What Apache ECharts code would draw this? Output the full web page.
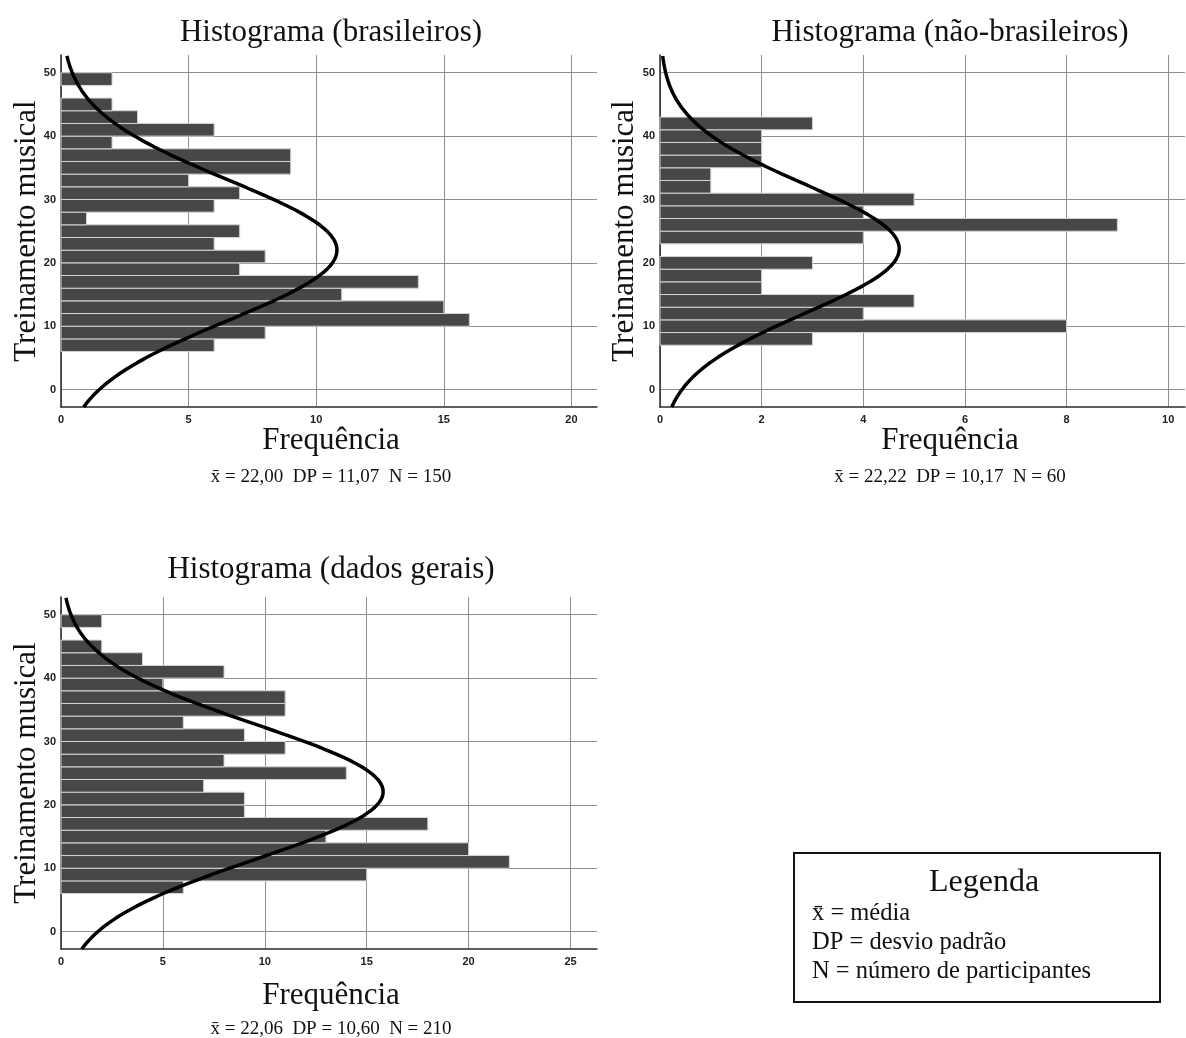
<!DOCTYPE html>
<html>
<head>
<meta charset="utf-8">
<title>Histogramas - Treinamento musical</title>
<script src="https://cdn.jsdelivr.net/npm/echarts@6/dist/echarts.min.js"></script>
<style>
  html, body { margin: 0; padding: 0; background: #ffffff; }
  #chart { width: 1186px; height: 1038px; }
</style>
</head>
<body>
<div id="chart"></div>
<script>
// Histogram bins of "Treinamento musical" (lower edge of each bin, width 2)
const binWidth = 2;
const binStartBrasileiros = [6, 8, 10, 12, 14, 16, 18, 20, 22, 24, 26, 28, 30, 32, 34, 36, 38, 40, 42, 44, 46, 48];
const freqBrasileiros     = [6, 8, 16, 15, 11, 14, 7, 8, 6, 7, 1, 6, 7, 5, 9, 9, 2, 6, 3, 2, 0, 2];

const binStartNaoBrasileiros = [7, 9, 11, 13, 15, 17, 19, 21, 23, 25, 27, 29, 31, 33, 35, 37, 39, 41];
const freqNaoBrasileiros     = [3, 8, 4, 5, 2, 2, 3, 0, 4, 9, 4, 5, 1, 1, 2, 2, 2, 3];

const binStartGerais = [6, 8, 10, 12, 14, 16, 18, 20, 22, 24, 26, 28, 30, 32, 34, 36, 38, 40, 42, 44, 46, 48];
const freqGerais     = [6, 15, 22, 20, 13, 18, 9, 9, 7, 14, 8, 11, 9, 6, 11, 11, 5, 8, 4, 2, 0, 2];

// Descriptive statistics: brasileiros, não-brasileiros, dados gerais
const meanValues = [22.00, 22.22, 22.06];
const sdValues   = [11.07, 10.17, 10.60];
const nValues    = [150, 60, 210];

// Tick labels
const yTicks = [0, 10, 20, 30, 40, 50];
const xTicksBrasileiros    = [0, 5, 10, 15, 20];
const xTicksNaoBrasileiros = [0, 2, 4, 6, 8, 10];
const xTicksGerais         = [0, 5, 10, 15, 20, 25];

const titles = ['Histograma (brasileiros)', 'Histograma (não-brasileiros)', 'Histograma (dados gerais)'];
const yName = 'Treinamento musical';
const xName = 'Frequência';
const legendTitle = 'Legenda';
const legendLines = ['x\u0304 = média', 'DP = desvio padrão', 'N = número de participantes'];

// ---- layout ----
const Y_MIN = -2.75, Y_MAX = 52.8;
const grids = [
  { left: 61,  top: 55,  width: 536, height: 352, xMax: 21,    xTicks: xTicksBrasileiros,
    cx: 331, titleY: 33,  yNameX: 27,  xNameY: 441, statsY: 477 },
  { left: 660, top: 55,  width: 525, height: 352, xMax: 10.33, xTicks: xTicksNaoBrasileiros,
    cx: 950, titleY: 33,  yNameX: 625, xNameY: 441, statsY: 477 },
  { left: 61,  top: 597, width: 536, height: 352, xMax: 26.3,  xTicks: xTicksGerais,
    cx: 331, titleY: 570, yNameX: 27,  xNameY: 996, statsY: 1029 }
];
const histData = [
  [binStartBrasileiros, freqBrasileiros],
  [binStartNaoBrasileiros, freqNaoBrasileiros],
  [binStartGerais, freqGerais]
];

const SERIF = '"Liberation Serif", "DejaVu Serif", serif';
const SANS = '"Liberation Sans", Arial, sans-serif';
const GRID_COLOR = '#8f8f8f';
const AXIS_COLOR = '#2a2a2a';
const BAR_COLOR = '#474747';

function fmt(v) { return v.toFixed(2).replace('.', ','); }

// Normal density scaled to counts per bin
function normalCurve(mean, sd, n) {
  const pts = [];
  for (let y = Y_MIN; y <= Y_MAX + 1e-9; y += 0.2) {
    const z = (y - mean) / sd;
    pts.push([n * binWidth * Math.exp(-0.5 * z * z) / (sd * Math.sqrt(2 * Math.PI)), y]);
  }
  return pts;
}

function renderBin(params, api) {
  const lo = api.value(0), hi = api.value(1), f = api.value(2);
  if (!f) return null;
  const p0 = api.coord([0, hi]);
  const p1 = api.coord([f, lo]);
  return {
    type: 'rect',
    shape: { x: p0[0], y: p0[1], width: p1[0] - p0[0], height: p1[1] - p0[1] },
    style: { fill: BAR_COLOR, stroke: '#d4d4d4', lineWidth: 1 }
  };
}

const option = {
  backgroundColor: '#ffffff',
  animation: false,
  grid: grids.map(g => ({ left: g.left, top: g.top, width: g.width, height: g.height })),
  xAxis: grids.map((g, i) => ({
    type: 'value', gridIndex: i, min: 0, max: g.xMax,
    axisLine: { show: true, onZero: false, lineStyle: { color: AXIS_COLOR, width: 1.5 } },
    axisTick: { show: false, customValues: g.xTicks },
    axisLabel: { customValues: g.xTicks, fontFamily: SANS, fontWeight: 'bold', fontSize: 11, color: '#222', margin: 7 },
    splitLine: { show: true, lineStyle: { color: GRID_COLOR, width: 1 } }
  })),
  yAxis: grids.map((g, i) => ({
    type: 'value', gridIndex: i, min: Y_MIN, max: Y_MAX,
    axisLine: { show: true, onZero: false, lineStyle: { color: AXIS_COLOR, width: 1.5 } },
    axisTick: { show: false, customValues: yTicks },
    axisLabel: { customValues: yTicks, fontFamily: SANS, fontWeight: 'bold', fontSize: 11, color: '#222', margin: 5 },
    splitLine: { show: true, lineStyle: { color: GRID_COLOR, width: 1 } }
  })),
  series: [].concat(
    histData.map((h, i) => ({
      type: 'custom', xAxisIndex: i, yAxisIndex: i,
      renderItem: renderBin,
      encode: { x: 2, y: [0, 1] },
      data: h[0].map((lo, k) => [lo, lo + binWidth, h[1][k]]),
      z: 2, silent: true
    })),
    grids.map((g, i) => ({
      type: 'line', xAxisIndex: i, yAxisIndex: i,
      data: normalCurve(meanValues[i], sdValues[i], nValues[i]),
      showSymbol: false, symbol: 'none', smooth: false, clip: true,
      lineStyle: { color: '#000', width: 3.5 },
      z: 3, silent: true
    }))
  ),
  graphic: []
};

// Titles, axis names and statistics beneath each histogram
grids.forEach((g, i) => {
  const cy = g.top + g.height / 2;
  option.graphic.push(
    { type: 'text', x: g.cx, y: g.titleY, style: { text: titles[i], font: '31px ' + SERIF, fill: '#111', align: 'center', verticalAlign: 'middle' } },
    { type: 'text', x: g.yNameX, y: cy, rotation: Math.PI / 2, style: { text: yName, font: '31px ' + SERIF, fill: '#111', align: 'center', verticalAlign: 'middle' } },
    { type: 'text', x: g.cx, y: g.xNameY, style: { text: xName, font: '31px ' + SERIF, fill: '#111', align: 'center', verticalAlign: 'middle' } },
    { type: 'text', x: g.cx, y: g.statsY, style: {
        text: 'x\u0304 = ' + fmt(meanValues[i]) + '  DP = ' + fmt(sdValues[i]) + '  N = ' + nValues[i],
        font: '19px ' + SERIF, fill: '#111', align: 'center', verticalAlign: 'middle' } }
  );
});

// Legend box
option.graphic.push(
  { type: 'rect', shape: { x: 794, y: 853, width: 366, height: 149 }, style: { fill: 'none', stroke: '#111', lineWidth: 2 } },
  { type: 'text', x: 984, y: 883, style: { text: legendTitle, font: '32px ' + SERIF, fill: '#111', align: 'center', verticalAlign: 'middle' } }
);
legendLines.forEach((t, k) => {
  option.graphic.push({ type: 'text', x: 812, y: 914 + k * 29, style: { text: t, font: '24.5px ' + SERIF, fill: '#111', align: 'left', verticalAlign: 'middle' } });
});

const chart = echarts.init(document.getElementById('chart'), null, { renderer: 'canvas' });
chart.setOption(option);
</script>
</body>
</html>
